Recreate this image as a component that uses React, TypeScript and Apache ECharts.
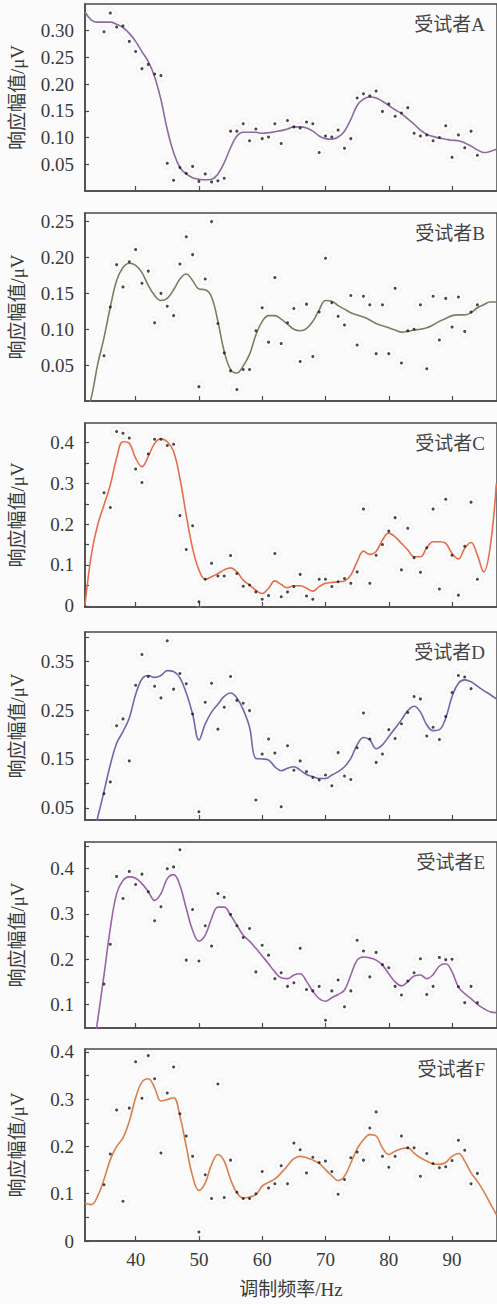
import React, { useEffect, useRef } from "react";
import * as echarts from "echarts";

// ---------- data ----------
const CURVE_FREQ = [32, 33, 34, 35, 36, 37, 38, 39, 40, 41, 42, 43, 44, 45, 46, 47, 48, 49, 50, 51, 52, 53, 54, 55, 56, 57, 58, 59, 60, 61, 62, 63, 64, 65, 66, 67, 68, 69, 70, 71, 72, 73, 74, 75, 76, 77, 78, 79, 80, 81, 82, 83, 84, 85, 86, 87, 88, 89, 90, 91, 92, 93, 94, 95, 96, 97];
const SCATTER_FREQ = [35, 36, 37, 38, 39, 40, 41, 42, 43, 44, 45, 46, 47, 48, 49, 50, 51, 52, 53, 54, 55, 56, 57, 58, 59, 60, 61, 62, 63, 64, 65, 66, 67, 68, 69, 70, 71, 72, 73, 74, 75, 76, 77, 78, 79, 80, 81, 82, 83, 84, 85, 86, 87, 88, 89, 90, 91, 92, 93, 94];
const X_TICKS = [40, 50, 60, 70, 80, 90];

const SUBJECTS = ["受试者A", "受试者B", "受试者C", "受试者D", "受试者E", "受试者F"];

const CURVE_A = [0.335, 0.320, 0.316, 0.316, 0.316, 0.312, 0.306, 0.295, 0.280, 0.261, 0.242, 0.214, 0.171, 0.115, 0.072, 0.044, 0.032, 0.025, 0.022, 0.021, 0.022, 0.032, 0.053, 0.081, 0.103, 0.110, 0.110, 0.110, 0.108, 0.109, 0.111, 0.113, 0.116, 0.120, 0.120, 0.118, 0.112, 0.103, 0.098, 0.097, 0.101, 0.112, 0.134, 0.160, 0.172, 0.176, 0.174, 0.168, 0.160, 0.152, 0.145, 0.135, 0.125, 0.114, 0.106, 0.102, 0.099, 0.097, 0.095, 0.094, 0.090, 0.084, 0.077, 0.072, 0.074, 0.078];
const POINTS_A = [0.298, 0.333, 0.307, 0.309, 0.280, 0.261, 0.229, 0.237, 0.219, 0.216, 0.052, 0.020, 0.044, 0.033, 0.046, 0.018, 0.032, 0.017, 0.019, 0.024, 0.112, 0.112, 0.126, 0.094, 0.116, 0.098, 0.101, 0.126, 0.089, 0.132, 0.120, 0.118, 0.129, 0.126, 0.072, 0.103, 0.101, 0.114, 0.080, 0.098, 0.174, 0.182, 0.178, 0.187, 0.149, 0.163, 0.140, 0.146, 0.156, 0.108, 0.103, 0.105, 0.094, 0.100, 0.122, 0.063, 0.105, 0.081, 0.112, 0.067];

const CURVE_B = [-0.02, 0.005, 0.051, 0.088, 0.131, 0.168, 0.186, 0.192, 0.189, 0.179, 0.161, 0.147, 0.140, 0.143, 0.155, 0.170, 0.177, 0.168, 0.156, 0.155, 0.145, 0.111, 0.069, 0.044, 0.039, 0.049, 0.065, 0.092, 0.111, 0.119, 0.119, 0.114, 0.107, 0.100, 0.098, 0.101, 0.111, 0.127, 0.140, 0.139, 0.133, 0.128, 0.123, 0.120, 0.117, 0.113, 0.108, 0.105, 0.102, 0.099, 0.096, 0.097, 0.099, 0.100, 0.102, 0.106, 0.111, 0.115, 0.119, 0.120, 0.120, 0.123, 0.130, 0.134, 0.138, 0.138];
const POINTS_B = [0.063, 0.131, 0.190, 0.159, 0.194, 0.211, 0.164, 0.181, 0.109, 0.150, 0.132, 0.119, 0.191, 0.229, 0.204, 0.020, 0.170, 0.250, 0.108, 0.067, 0.042, 0.016, 0.044, 0.044, 0.098, 0.130, 0.082, 0.172, 0.080, 0.109, 0.129, 0.055, 0.135, 0.062, 0.124, 0.199, 0.137, 0.118, 0.106, 0.147, 0.078, 0.146, 0.134, 0.066, 0.134, 0.066, 0.157, 0.053, 0.098, 0.100, 0.134, 0.045, 0.146, 0.085, 0.143, 0.103, 0.145, 0.097, 0.124, 0.134];

const CURVE_C = [0.002, 0.124, 0.198, 0.247, 0.296, 0.362, 0.402, 0.398, 0.362, 0.341, 0.366, 0.398, 0.409, 0.402, 0.378, 0.312, 0.222, 0.141, 0.088, 0.065, 0.071, 0.079, 0.088, 0.093, 0.083, 0.063, 0.051, 0.038, 0.030, 0.043, 0.061, 0.052, 0.044, 0.049, 0.049, 0.043, 0.036, 0.047, 0.055, 0.057, 0.059, 0.061, 0.075, 0.108, 0.134, 0.126, 0.133, 0.161, 0.178, 0.169, 0.153, 0.137, 0.120, 0.120, 0.142, 0.157, 0.157, 0.153, 0.128, 0.115, 0.141, 0.155, 0.124, 0.083, 0.141, 0.300];
const POINTS_C = [0.277, 0.241, 0.427, 0.423, 0.411, 0.335, 0.302, 0.372, 0.408, 0.408, 0.393, 0.396, 0.221, 0.138, 0.196, 0.010, 0.065, 0.104, 0.073, 0.073, 0.123, 0.079, 0.048, 0.051, 0.034, 0.016, 0.025, 0.128, 0.022, 0.034, 0.047, 0.077, 0.024, 0.016, 0.065, 0.065, 0.047, 0.059, 0.067, 0.055, 0.083, 0.237, 0.055, 0.124, 0.150, 0.183, 0.216, 0.088, 0.190, 0.118, 0.082, 0.142, 0.237, 0.041, 0.261, 0.124, 0.026, 0.146, 0.254, 0.065];

const CURVE_D = [-0.08, -0.02, 0.030, 0.083, 0.138, 0.182, 0.206, 0.234, 0.282, 0.314, 0.321, 0.317, 0.321, 0.331, 0.329, 0.316, 0.285, 0.242, 0.189, 0.222, 0.246, 0.262, 0.278, 0.285, 0.275, 0.251, 0.215, 0.151, 0.150, 0.148, 0.134, 0.126, 0.131, 0.134, 0.127, 0.118, 0.114, 0.110, 0.110, 0.117, 0.124, 0.134, 0.151, 0.179, 0.194, 0.189, 0.171, 0.179, 0.196, 0.213, 0.230, 0.249, 0.258, 0.246, 0.220, 0.208, 0.210, 0.234, 0.278, 0.305, 0.312, 0.308, 0.299, 0.290, 0.282, 0.273];
const POINTS_D = [0.079, 0.103, 0.218, 0.232, 0.146, 0.301, 0.364, 0.319, 0.299, 0.275, 0.392, 0.293, 0.325, 0.304, 0.242, 0.042, 0.266, 0.305, 0.211, 0.256, 0.319, 0.270, 0.264, 0.249, 0.066, 0.160, 0.191, 0.162, 0.052, 0.177, 0.127, 0.146, 0.124, 0.112, 0.107, 0.117, 0.095, 0.163, 0.115, 0.108, 0.173, 0.244, 0.191, 0.143, 0.160, 0.210, 0.192, 0.222, 0.245, 0.278, 0.273, 0.197, 0.215, 0.190, 0.237, 0.286, 0.321, 0.318, 0.294, null];

const CURVE_E = [-0.10, -0.03, 0.065, 0.165, 0.268, 0.345, 0.374, 0.382, 0.379, 0.367, 0.349, 0.330, 0.345, 0.378, 0.387, 0.363, 0.312, 0.264, 0.240, 0.253, 0.290, 0.315, 0.315, 0.297, 0.275, 0.253, 0.240, 0.224, 0.207, 0.190, 0.172, 0.159, 0.157, 0.165, 0.168, 0.151, 0.129, 0.113, 0.107, 0.115, 0.122, 0.132, 0.165, 0.198, 0.205, 0.203, 0.198, 0.187, 0.168, 0.150, 0.141, 0.150, 0.163, 0.165, 0.157, 0.166, 0.185, 0.190, 0.172, 0.139, 0.124, 0.113, 0.100, 0.091, 0.084, 0.082];
const POINTS_E = [0.145, 0.233, 0.383, 0.334, 0.394, 0.365, 0.388, 0.349, 0.285, 0.316, 0.400, 0.404, 0.442, 0.198, 0.310, 0.196, 0.274, 0.229, 0.345, 0.337, 0.299, 0.274, 0.248, 0.268, 0.172, 0.231, 0.209, 0.157, 0.170, 0.140, 0.148, 0.224, 0.133, 0.130, 0.140, 0.065, 0.130, 0.154, 0.095, 0.130, 0.242, 0.218, 0.161, 0.215, 0.188, 0.181, 0.140, 0.121, 0.152, 0.170, 0.201, 0.122, 0.140, 0.204, 0.199, 0.200, 0.139, 0.104, 0.140, 0.104];

const CURVE_F = [0.080, 0.077, 0.095, 0.130, 0.172, 0.200, 0.218, 0.253, 0.303, 0.336, 0.343, 0.324, 0.296, 0.299, 0.303, 0.264, 0.200, 0.137, 0.107, 0.123, 0.162, 0.183, 0.169, 0.130, 0.102, 0.091, 0.093, 0.098, 0.116, 0.124, 0.131, 0.144, 0.159, 0.174, 0.179, 0.176, 0.171, 0.164, 0.151, 0.138, 0.128, 0.137, 0.165, 0.195, 0.214, 0.225, 0.222, 0.197, 0.183, 0.190, 0.195, 0.197, 0.186, 0.176, 0.169, 0.163, 0.162, 0.166, 0.179, 0.185, 0.169, 0.144, 0.126, 0.105, 0.080, 0.056];
const POINTS_F = [0.119, 0.184, 0.277, 0.084, 0.281, 0.379, 0.302, 0.392, 0.343, 0.186, 0.313, 0.368, 0.269, 0.222, 0.179, 0.019, 0.140, 0.090, 0.332, 0.092, 0.171, 0.103, 0.090, 0.090, 0.100, 0.147, 0.112, 0.121, 0.159, 0.121, 0.207, 0.193, 0.144, 0.177, 0.166, 0.169, 0.147, 0.099, 0.130, 0.176, 0.188, 0.171, 0.239, 0.273, 0.179, 0.156, 0.179, 0.222, 0.197, 0.197, 0.137, 0.185, 0.164, 0.155, 0.157, 0.170, 0.213, 0.192, 0.121, 0.143];

// y-axis tick values / labels per panel
const Y_TICKS_A = [0.05, 0.10, 0.15, 0.20, 0.25, 0.30];
const Y_LABELS_A = [0.05, 0.10, 0.15, 0.20, 0.25, 0.30];
const Y_TICKS_B = [0.05, 0.10, 0.15, 0.20, 0.25];
const Y_LABELS_B = [0.05, 0.10, 0.15, 0.20, 0.25];
const Y_TICKS_C = [0, 0.05, 0.1, 0.15, 0.2, 0.25, 0.3, 0.35, 0.4];
const Y_LABELS_C = [0, 0.1, 0.2, 0.3, 0.4];
const Y_TICKS_D = [0.05, 0.10, 0.15, 0.20, 0.25, 0.30, 0.35, 0.40];
const Y_LABELS_D = [0.05, 0.15, 0.25, 0.35];
const Y_TICKS_E = [0.1, 0.15, 0.2, 0.25, 0.3, 0.35, 0.4, 0.45];
const Y_LABELS_E = [0.1, 0.2, 0.3, 0.4];
const Y_TICKS_F = [0, 0.05, 0.1, 0.15, 0.2, 0.25, 0.3, 0.35, 0.4];
const Y_LABELS_F = [0, 0.1, 0.2, 0.3, 0.4];

// ---------- layout / style ----------
const FONT = "'Liberation Serif', 'Noto Sans CJK SC', serif";
const TEXT = "#3a3a3a";
const AXIS = "#4a4a4a";

const PANELS = [
  { curve: CURVE_A, pts: POINTS_A, color: "#8c6c9f", top: 4, height: 187, min: 0, max: 0.35, ticks: Y_TICKS_A, labels: Y_LABELS_A, dec: 2 },
  { curve: CURVE_B, pts: POINTS_B, color: "#7d7d62", top: 213, height: 188, min: 0, max: 0.262, ticks: Y_TICKS_B, labels: Y_LABELS_B, dec: 2 },
  { curve: CURVE_C, pts: POINTS_C, color: "#e3704d", top: 423, height: 184, min: -0.003, max: 0.448, ticks: Y_TICKS_C, labels: Y_LABELS_C, dec: 1 },
  { curve: CURVE_D, pts: POINTS_D, color: "#6e69a8", top: 632, height: 188, min: 0.025, max: 0.41, ticks: Y_TICKS_D, labels: Y_LABELS_D, dec: 2 },
  { curve: CURVE_E, pts: POINTS_E, color: "#9a65a7", top: 842, height: 186, min: 0.048, max: 0.459, ticks: Y_TICKS_E, labels: Y_LABELS_E, dec: 1 },
  { curve: CURVE_F, pts: POINTS_F, color: "#d9804d", top: 1049, height: 192, min: 0, max: 0.406, ticks: Y_TICKS_F, labels: Y_LABELS_F, dec: 1 },
];

function fmt(v: number, dec: number) {
  if (Math.abs(v) < 1e-9) return "0";
  return v.toFixed(dec);
}

export default function App() {
  const ref = useRef<HTMLDivElement>(null);
  useEffect(() => {
    const chart = echarts.init(ref.current!, null, { renderer: "svg" });
    const grid: any[] = [];
    const xAxis: any[] = [];
    const yAxis: any[] = [];
    const series: any[] = [];
    const title: any[] = [];
    PANELS.forEach((p, i) => {
      const last = i === PANELS.length - 1;
      grid.push({
        left: 83,
        top: p.top,
        width: 416,
        height: p.height,
        show: true,
        borderColor: AXIS,
        borderWidth: 1.5,
        backgroundColor: "transparent",
      });
      xAxis.push({
        type: "value",
        gridIndex: i,
        min: 32,
        max: 97.1,
        axisLine: { show: true, onZero: false, lineStyle: { color: AXIS, width: 1.5 } },
        axisTick: { show: true, inside: true, length: 5, customValues: X_TICKS, lineStyle: { color: AXIS, width: 1.2 } },
        axisLabel: {
          show: last,
          customValues: X_TICKS,
          margin: 9,
          fontSize: 19,
          fontFamily: FONT,
          color: TEXT,
        },
        splitLine: { show: false },
        name: last ? "调制频率/Hz" : "",
        nameLocation: "middle",
        nameGap: 39,
        nameTextStyle: { fontSize: 19, fontFamily: FONT, color: TEXT },
      });
      yAxis.push({
        type: "value",
        gridIndex: i,
        min: p.min,
        max: p.max,
        axisLine: { show: true, onZero: false, lineStyle: { color: AXIS, width: 1.5 } },
        axisTick: { show: true, inside: true, length: 4, customValues: p.ticks, lineStyle: { color: AXIS, width: 1.2 } },
        axisLabel: {
          customValues: p.labels,
          margin: 11,
          fontSize: 19,
          fontFamily: FONT,
          color: TEXT,
          formatter: (v: number) => fmt(v, p.dec),
        },
        splitLine: { show: false },
        name: "响应幅值/μV",
        nameLocation: "middle",
        nameGap: 58,
        nameTextStyle: { fontSize: 19, fontFamily: FONT, color: TEXT },
      });
      title.push({
        text: SUBJECTS[i],
        right: 7,
        top: p.top + 6,
        textStyle: { fontSize: 19, fontWeight: "normal", fontFamily: FONT, color: "#444" },
      });
      const pts = SCATTER_FREQ.map((f, k) => (p.pts[k] == null ? null : [f, p.pts[k]])).filter((d) => d !== null);
      series.push({
        type: "scatter",
        xAxisIndex: i,
        yAxisIndex: i,
        data: pts,
        symbol: "circle",
        symbolSize: 11,
        itemStyle: { color: "rgba(0,0,0,0)", borderColor: "#dadada", borderWidth: 0.8, borderType: "dotted" },
        silent: true,
        z: 1,
      });
      series.push({
        type: "line",
        xAxisIndex: i,
        yAxisIndex: i,
        data: CURVE_FREQ.map((f, k) => [f, p.curve[k]]),
        smooth: 0.4,
        showSymbol: false,
        clip: true,
        lineStyle: { color: p.color, width: 1.6 },
        z: 2,
      });
      series.push({
        type: "scatter",
        xAxisIndex: i,
        yAxisIndex: i,
        data: pts,
        symbol: "circle",
        symbolSize: 3,
        itemStyle: { color: "#1a1a1a" },
        z: 3,
      });
    });
    chart.setOption({
      animation: false,
      backgroundColor: "#fbfbfb",
      title,
      grid,
      xAxis,
      yAxis,
      series,
    });
    return () => chart.dispose();
  }, []);
  return <div ref={ref} style={{ position: "absolute", left: 0, top: 0, width: 497, height: 1304 }} />;
}
